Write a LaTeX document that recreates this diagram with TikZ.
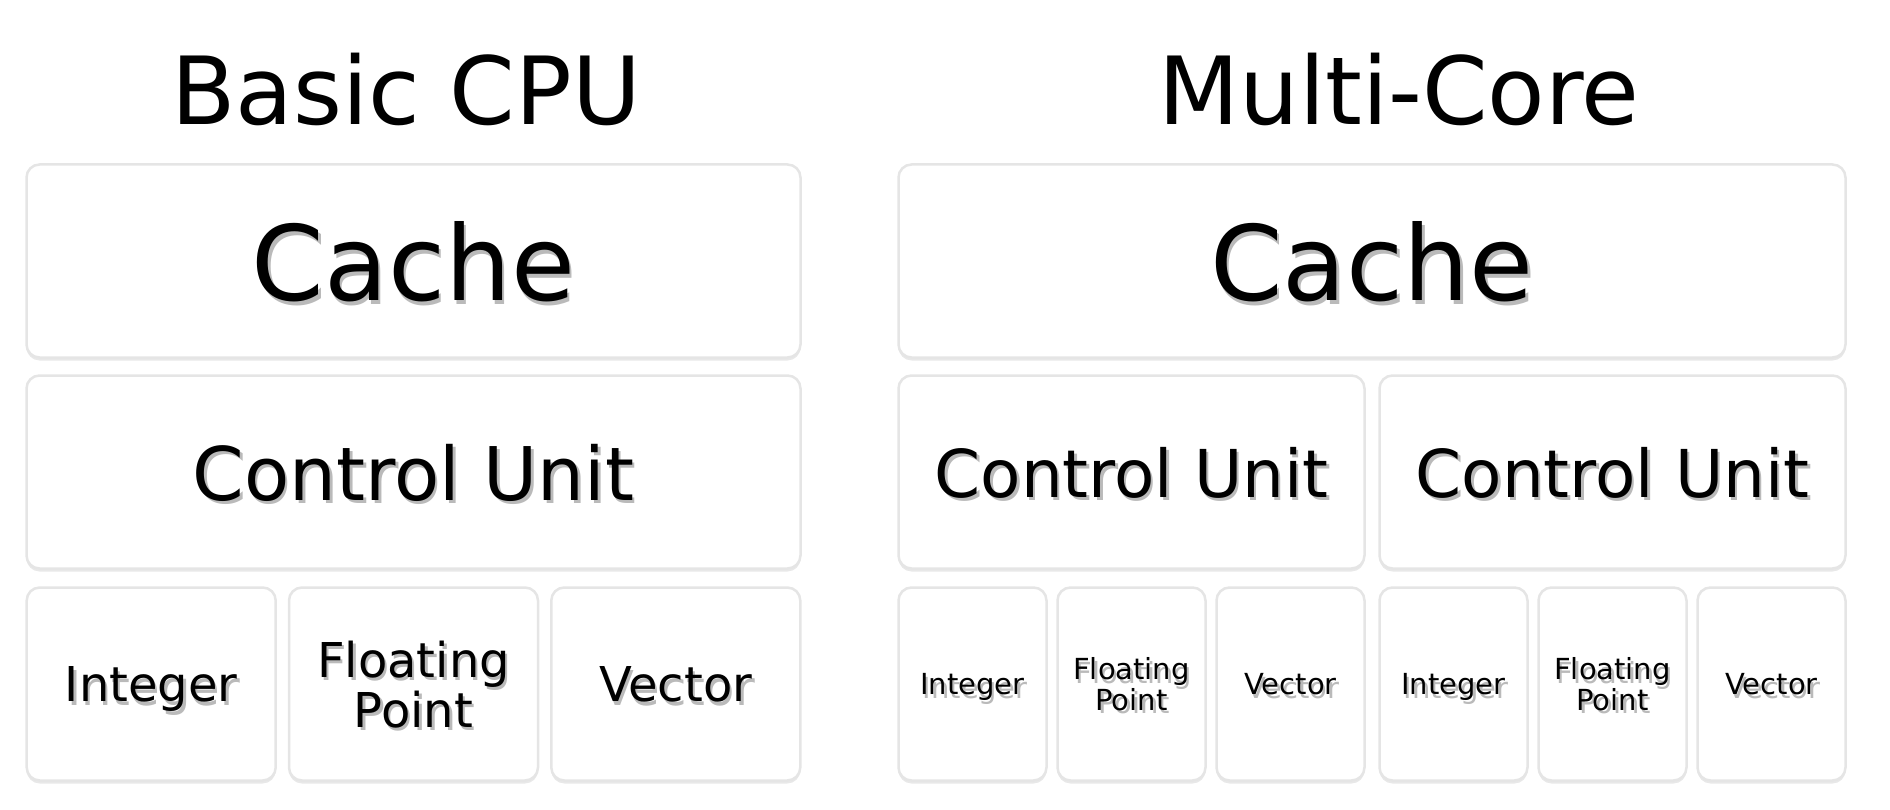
\documentclass[tikz,border=0pt]{standalone}
\usepackage{fontspec}
\setmainfont{DejaVu Sans}
\usetikzlibrary{shadows}
\newcommand\shtxt[1]{\raisebox{0pt}[\height][0pt]{\makebox[0pt][l]{\hspace{2.5pt}\raisebox{-3.5pt}{\textcolor{black!27}{#1}}}#1}}
\newcommand\fsz[1]{\fontsize{#1}{1.05\dimexpr#1pt\relax}\selectfont}
\tikzset{
  unit/.style 2 args={draw=black!10, line width=2.5pt, fill=white, rounded corners=13pt,
    minimum width=#1pt, minimum height=#2pt, inner sep=0pt, align=center,
    drop shadow={shadow xshift=0pt, shadow yshift=-3pt, fill=black, opacity=.09}},
  title/.style={anchor=base, font=\fsz{94}}
}
\begin{document}
\begin{tikzpicture}[x=1pt,y=-1pt]
\useasboundingbox (0,0) rectangle (1890,810);
\node[title] (basic) at (406,125) {Basic CPU};
\node[title] (multi) at (1399,125) {Multi-Core};
\node[unit={774}{193}, font=\fsz{104}] (cacheA) at (413.5,261) {\shtxt{Cache}};
\node[unit={774}{193}, font=\fsz{74}] (cuA) at (413.5,472) {\shtxt{Control Unit}};
\node[unit={249}{193}, font=\fsz{48}] (intA) at (151.2,684) {\shtxt{Integer}};
\node[unit={249}{193}, font=\fsz{48}] (fpA) at (413.5,684) {\shtxt{Floating}\\\shtxt{Point}};
\node[unit={249}{193}, font=\fsz{48}] (vecA) at (675.8,684) {\shtxt{Vector}};
\node[unit={947}{193}, font=\fsz{104}] (cacheB) at (1372,261) {\shtxt{Cache}};
\foreach \i/\x in {1/897,2/1378}{
  \node[unit={466}{193}, font=\fsz{66}] (cuB\i) at (\x+234.5,472) {\shtxt{Control Unit}};
  \node[unit={148}{193}, font=\fsz{29}] (intB\i) at (\x+75.5,684) {\shtxt{Integer}};
  \node[unit={148}{193}, font=\fsz{29}] (fpB\i) at (\x+234.5,684) {\shtxt{Floating}\\\shtxt{Point}};
  \node[unit={148}{193}, font=\fsz{29}] (vecB\i) at (\x+393.5,684) {\shtxt{Vector}};
}
\end{tikzpicture}
\end{document}
